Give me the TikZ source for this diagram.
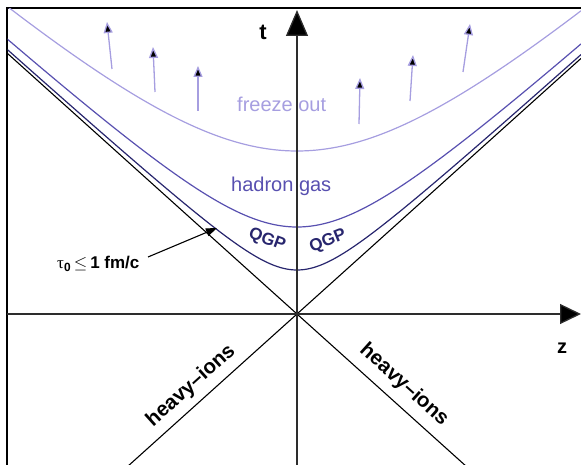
\documentclass[tikz,border=0pt]{standalone}
\usepackage{fontspec}
\setmainfont{Liberation Sans}
\newfontfamily\greekfont{Liberation Serif}
\usetikzlibrary{arrows.meta}
\definecolor{freezecol}{RGB}{166,158,224}
\definecolor{hadroncol}{RGB}{88,80,176}
\definecolor{qgpcol}{RGB}{40,38,110}
\definecolor{axiscol}{RGB}{45,45,45}
\tikzset{
  frameline/.style={line width=1.5pt,black},
  axisline/.style={line width=1.3pt,axiscol},
  coneline/.style={line width=1.1pt,black},
  curveline/.style={line width=1.2pt},
  flowarrow/.style={line width=1.3pt,freezecol,-{Triangle[length=11pt,width=9pt,fill=black]}},
  lbl/.style={inner sep=0pt},
}
\begin{document}
\begin{tikzpicture}[x=1pt,y=-1pt]
\useasboundingbox (0,0) rectangle (581,465);
% frame
\coordinate (fBL) at (7,465);
\coordinate (fTL) at (7,8);
\coordinate (fTR) at (581,8);
\draw[frameline] (fBL) -- (fTL) -- (fTR);
\begin{scope}
\clip (7.7,8.7) rectangle (581,465);
% light cone
\coordinate (O) at (297,314);
\coordinate (cUL) at (7,53.0);
\coordinate (cLR) at (470,469.7);
\coordinate (cUR) at (581,58.4);
\coordinate (cLL) at (124,469.7);
\draw[coneline] (cUL) -- (O) -- (cLR);
\draw[coneline] (cUR) -- (O) -- (cLL);
% hyperbolas
\draw[curveline,qgpcol] plot[domain=7:581,samples=200] (\x,{314-100*sqrt((0.44)^2+(0.009*(\x-297))^2)});
\draw[curveline,hadroncol] plot[domain=7:581,samples=200] (\x,{314-100*sqrt((0.87)^2+(0.009*(\x-297))^2)});
\draw[curveline,freezecol] plot[domain=7:581,samples=200] (\x,{314-100*sqrt((1.63)^2+(0.009*(\x-297))^2)});
\end{scope}
% axes
\coordinate (tBot) at (297,465);
\coordinate (tTop) at (297,10);
\coordinate (zL) at (7,314);
\coordinate (zR) at (581,314);
\draw[axisline,-{Triangle[length=26pt,width=22pt,fill=black]}] (tBot) -- (tTop);
\draw[axisline,-{Triangle[length=21pt,width=20pt,fill=black]}] (zL) -- (zR);
\node[lbl,font=\bfseries\fontsize{22}{24}\selectfont] (tlab) at (263,32) {t};
\node[lbl,font=\bfseries\fontsize{20}{22}\selectfont] (zlab) at (562,348) {z};
% freeze-out flow arrows
\coordinate (a1s) at (112,69);  \coordinate (a1e) at (107,22);
\coordinate (a2s) at (155,92);  \coordinate (a2e) at (153,47);
\coordinate (a3s) at (198,111); \coordinate (a3e) at (198,66);
\coordinate (a4s) at (359,124); \coordinate (a4e) at (360,78);
\coordinate (a5s) at (410,101); \coordinate (a5e) at (413,55);
\coordinate (a6s) at (463,72);  \coordinate (a6e) at (470,24);
\foreach \i in {1,...,6}{\draw[flowarrow] (a\i s) -- (a\i e);}
% labels
\node[lbl,anchor=base west,text=freezecol,font=\fontsize{20}{22}\selectfont] (freeze) at (237,112) {freeze out};
\node[lbl,anchor=base west,text=hadroncol,font=\fontsize{20}{22}\selectfont] (hadron) at (231,192) {hadron gas};
\node[lbl,text=qgpcol,font=\bfseries\fontsize{17}{19}\selectfont,rotate=-20] (qgpL) at (267,240) {QGP};
\node[lbl,text=qgpcol,font=\bfseries\fontsize{17}{19}\selectfont,rotate=22] (qgpR) at (328,241) {QGP};
\node[lbl,anchor=base west,font=\fontsize{17}{19}\selectfont] (tau) at (57,269) {{\greekfont τ}\textsubscript{\bfseries 0}\,$\leq$\,\textbf{1 fm/c}};
\coordinate (tauTip) at (217,228);
\draw[line width=1.1pt,-{Triangle[length=11pt,width=8pt]}] (148,257) -- (tauTip);
\node[lbl,font=\bfseries\fontsize{20.5}{22}\selectfont,rotate=42] (hiL) at (191,386) {heavy–ions};
\node[lbl,font=\bfseries\fontsize{20.5}{22}\selectfont,rotate=-42] (hiR) at (404,385) {heavy–ions};
\end{tikzpicture}
\end{document}
